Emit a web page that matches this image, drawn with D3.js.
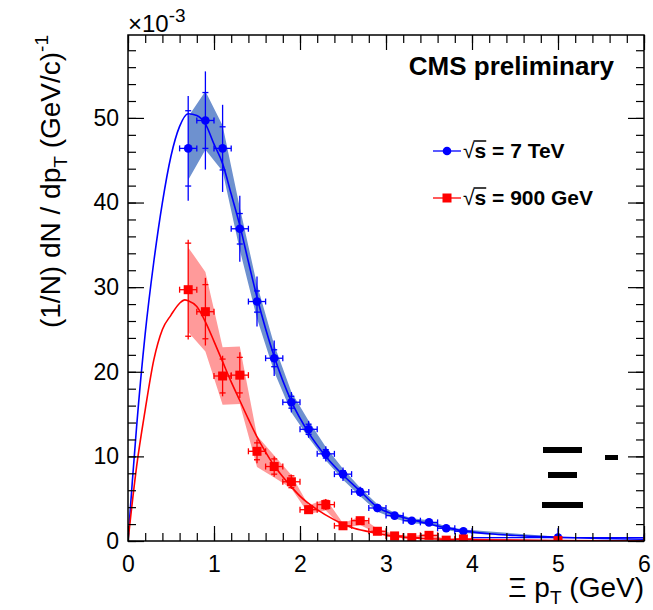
<!DOCTYPE html>
<html>
<head>
<meta charset="utf-8">
<script src="https://cdn.jsdelivr.net/npm/d3@7"></script>
<style>
  html, body { margin: 0; padding: 0; background: #fff; }
  svg { display: block; }
</style>
</head>
<body>
<div id="chart"></div>
<script>
// Xi pT spectra, CMS preliminary (values in units of 1e-3)
const ptBins = [0.7, 0.9, 1.1, 1.3, 1.5, 1.7, 1.9, 2.1, 2.3, 2.5, 2.7, 2.9, 3.1, 3.3, 3.5, 3.7, 3.9, 5.0];
const ptHalfWidth = [0.1, 0.1, 0.1, 0.1, 0.1, 0.1, 0.1, 0.1, 0.1, 0.1, 0.1, 0.1, 0.1, 0.1, 0.1, 0.1, 0.1, 1.0];

// sqrt(s) = 7 TeV
const yield7 = [46.4, 49.7, 46.4, 36.9, 28.3, 21.6, 16.4, 13.2, 10.3, 7.9, 5.8, 3.9, 3.0, 2.4, 2.2, 1.5, 1.15, 0.4];
const stat7 = [4.45, 3.3, 2.55, 1.8, 1.25, 1.0, 0.7, 0.6, 0.5, 0.4, 0.35, 0.3, 0.25, 0.2, 0.2, 0.15, 0.15, 0.3];
const total7 = [6.2, 5.8, 5.15, 3.9, 2.95, 2.1, 1.2, 1.0, 0.9, 0.8, 0.6, 0.5, 0.4, 0.35, 0.3, 0.3, 0.25, 1.1];
const syst7 = [3.75, 3.45, 2.7, 2.5, 2.0, 1.6, 1.2, 1.0, 0.8, 0.65, 0.5, 0.45, 0.35, 0.3, 0.25, 0.2, 0.2, 0.1];

// sqrt(s) = 900 GeV
const yield900 = [29.7, 27.1, 19.5, 19.6, 10.6, 8.8, 7.0, 3.7, 4.3, 1.8, 2.4, 1.15, 0.6, 0.4, 0.67, 0.1, 0.24, 0.05];
const stat900 = [5.5, 3.2, 2.0, 2.1, 1.0, 0.9, 0.7, 0.4, 0.5, 0.3, 0.35, 0.2, 0.15, 0.15, 0.15, 0.1, 0.1, 0.05];
const total900 = [5.9, 4.0, 2.4, 2.7, 1.4, 1.2, 0.85, 0.5, 0.65, 0.35, 0.45, 0.3, 0.2, 0.2, 0.2, 0.15, 0.15, 0.1];
const syst900 = [5.0, 4.7, 3.4, 3.4, 1.85, 1.3, 0.8, 0.5, 0.7, 0.3, 0.5, 0.3, 0.2, 0.15, 0.2, 0.1, 0.1, 0.05];

// fit curves
const fitPt7 = [0, 0.05, 0.1, 0.2, 0.3, 0.4, 0.5, 0.6, 0.7, 0.8, 0.9, 1.0, 1.1, 1.2, 1.3, 1.4, 1.5, 1.7, 1.9, 2.1, 2.3, 2.5, 2.7, 2.9, 3.1, 3.3, 3.5, 3.7, 3.9, 4.2, 4.5, 5.0, 5.5, 6.0];
const fit7 = [0, 7, 13.5, 24.5, 33, 40, 45.5, 49, 50.5, 50.3, 49.3, 46.9, 44.6, 41, 37.3, 33, 28.8, 21.8, 16.5, 12.8, 10.0, 7.8, 5.9, 4.0, 3.1, 2.5, 2.0, 1.55, 1.2, 0.85, 0.65, 0.45, 0.3, 0.2];
const fitPt900 = [0, 0.1, 0.2, 0.3, 0.4, 0.5, 0.6, 0.66, 0.7, 0.8, 0.9, 1.0, 1.1, 1.2, 1.3, 1.4, 1.5, 1.6, 1.7, 1.8, 1.9, 2.0, 2.2, 2.4, 2.6, 2.8, 3.0, 3.4, 4.0, 5.0, 6.0];
const fit900 = [0, 8.8, 15.5, 21.4, 25, 26.7, 28.1, 28.5, 28.4, 27.7, 25.9, 23.6, 21.2, 18.8, 16.6, 14.4, 12.3, 10.5, 8.9, 7.6, 6.4, 5.3, 3.7, 2.5, 1.6, 1.1, 0.7, 0.3, 0.15, 0.05, 0];

const xMajorTicks = [0, 1, 2, 3, 4, 5, 6];
const yMajorTicks = [0, 10, 20, 30, 40, 50];

const width = 653;
const height = 610;
const margin = { top: 35, right: 9, bottom: 69, left: 128 };
const fontFamily = "'Liberation Sans', Arial, Helvetica, sans-serif";

const blue = '#0000ff';
const blueBand = '#6e91cf';
const red = '#ff0000';
const redBand = '#ff9a9a';

const x = d3.scaleLinear().domain([0, 6]).range([margin.left, width - margin.right]);
const y = d3.scaleLinear().domain([0, 59.8]).range([height - margin.bottom, margin.top]);

const svg = d3.select('#chart')
  .append('svg')
  .attr('width', width)
  .attr('height', height)
  .style('background', '#fff')
  .style('font-family', fontFamily);

svg.append('defs').append('clipPath').attr('id', 'frame-clip')
  .append('rect')
  .attr('x', margin.left).attr('y', margin.top)
  .attr('width', x(6) - x(0)).attr('height', y(0) - y(59.8));

const plot = svg.append('g').attr('clip-path', 'url(#frame-clip)');

/* Systematic bands */
function drawBand(values, syst, fill) {
  const pts = ptBins.map((pt, i) => ({ pt, lo: values[i] - syst[i], hi: values[i] + syst[i] }));
  const area = d3.area()
    .x((d) => x(d.pt))
    .y0((d) => y(Math.max(d.lo, 0)))
    .y1((d) => y(d.hi));
  plot.append('path').datum(pts).attr('d', area).attr('fill', fill);
}
drawBand(yield7, syst7, blueBand);
drawBand(yield900, syst900, redBand);

/* Fit curves */
function drawFit(pts, vals, color) {
  const line = d3.line().curve(d3.curveMonotoneX)
    .x((d) => x(d[0]))
    .y((d) => y(d[1]));
  plot.append('path')
    .datum(pts.map((p, i) => [p, vals[i]]))
    .attr('d', line)
    .attr('fill', 'none')
    .attr('stroke', color)
    .attr('stroke-width', 1.6);
}
drawFit(fitPt7, fit7, blue);
drawFit(fitPt900, fit900, red);

/* Data points with error bars */
function drawPoints(values, stat, total, color, marker) {
  const data = ptBins.map((pt, i) => ({ pt, hw: ptHalfWidth[i], v: values[i], s: stat[i], t: total[i] }));
  const g = plot.append('g').attr('stroke', color).attr('stroke-width', 1.3);
  const cap = 3;

  data.forEach((d) => {
    const cx = x(d.pt);
    const cy = y(d.v);
    // total error
    g.append('line').attr('x1', cx).attr('x2', cx).attr('y1', y(d.v - d.t)).attr('y2', y(d.v + d.t));
    // stat error caps
    [d.v - d.s, d.v + d.s].forEach((e) => {
      g.append('line').attr('x1', cx - cap).attr('x2', cx + cap).attr('y1', y(e)).attr('y2', y(e));
    });
    // bin width
    g.append('line').attr('x1', x(d.pt - d.hw)).attr('x2', x(d.pt + d.hw)).attr('y1', cy).attr('y2', cy);
    [d.pt - d.hw, d.pt + d.hw].forEach((e) => {
      g.append('line').attr('x1', x(e)).attr('x2', x(e)).attr('y1', cy - cap).attr('y2', cy + cap);
    });
  });

  if (marker === 'circle') {
    plot.selectAll(null).data(data).join('circle')
      .attr('cx', (d) => x(d.pt))
      .attr('cy', (d) => y(d.v))
      .attr('r', 4.3)
      .attr('fill', color);
  } else {
    const s = 9;
    plot.selectAll(null).data(data).join('rect')
      .attr('x', (d) => x(d.pt) - s / 2)
      .attr('y', (d) => y(d.v) - s / 2)
      .attr('width', s)
      .attr('height', s)
      .attr('fill', color);
  }
}
drawPoints(yield7, stat7, total7, blue, 'circle');
drawPoints(yield900, stat900, total900, red, 'square');

/* Axes: ROOT style, ticks inward on all four sides */
const xMinor = d3.range(0, 31).map((i) => i * 0.2);
const yMinor = d3.range(0, 30).map((i) => i * 2);

function styleAxis(g) {
  g.select('.domain').remove();
  g.selectAll('line').attr('stroke', '#000').attr('stroke-width', 1.2);
  g.selectAll('text').attr('fill', '#000').attr('font-size', 23).attr('font-family', fontFamily);
}

const bottomY = y(0);
const topY = y(59.8);
const leftX = x(0);
const rightX = x(6);

svg.append('g').attr('transform', `translate(0,${bottomY})`)
  .call(d3.axisBottom(x).tickValues(xMinor).tickSize(-8).tickFormat(''))
  .call(styleAxis);
svg.append('g').attr('transform', `translate(0,${bottomY})`)
  .call(d3.axisBottom(x).tickValues(xMajorTicks).tickSize(-15).tickPadding(10).tickFormat(d3.format('d')))
  .call(styleAxis)
  .selectAll('text').attr('dy', '0.9em');
svg.append('g').attr('transform', `translate(0,${topY})`)
  .call(d3.axisTop(x).tickValues(xMinor).tickSize(-8).tickFormat(''))
  .call(styleAxis);
svg.append('g').attr('transform', `translate(0,${topY})`)
  .call(d3.axisTop(x).tickValues(xMajorTicks).tickSize(-15).tickFormat(''))
  .call(styleAxis);

svg.append('g').attr('transform', `translate(${leftX},0)`)
  .call(d3.axisLeft(y).tickValues(yMinor).tickSize(-8).tickFormat(''))
  .call(styleAxis);
svg.append('g').attr('transform', `translate(${leftX},0)`)
  .call(d3.axisLeft(y).tickValues(yMajorTicks).tickSize(-16).tickPadding(9).tickFormat(d3.format('d')))
  .call(styleAxis);
svg.append('g').attr('transform', `translate(${rightX},0)`)
  .call(d3.axisRight(y).tickValues(yMinor).tickSize(-8).tickFormat(''))
  .call(styleAxis);
svg.append('g').attr('transform', `translate(${rightX},0)`)
  .call(d3.axisRight(y).tickValues(yMajorTicks).tickSize(-16).tickFormat(''))
  .call(styleAxis);

/* Frame */
svg.append('rect')
  .attr('x', leftX).attr('y', topY)
  .attr('width', rightX - leftX).attr('height', bottomY - topY)
  .attr('fill', 'none').attr('stroke', '#000').attr('stroke-width', 1.5);

/* Exponent label */
const expo = svg.append('text').attr('x', leftX).attr('y', 32).attr('font-size', 24).attr('fill', '#000');
expo.append('tspan').text('×10');
expo.append('tspan').attr('dy', -10).attr('font-size', 19).text('-3');

/* Axis titles */
const xTitle = svg.append('text')
  .attr('x', rightX).attr('y', 597)
  .attr('text-anchor', 'end').attr('font-size', 28).attr('fill', '#000');
xTitle.append('tspan').text('Ξ p');
xTitle.append('tspan').attr('dy', 7).attr('font-size', 19).text('T');
xTitle.append('tspan').attr('dy', -7).text(' (GeV)');

const yTitle = svg.append('text')
  .attr('transform', `translate(60,${topY}) rotate(-90)`)
  .attr('text-anchor', 'end').attr('font-size', 28).attr('fill', '#000');
yTitle.append('tspan').text('(1/N) dN / dp');
yTitle.append('tspan').attr('dy', 7).attr('font-size', 19).text('T');
yTitle.append('tspan').attr('dy', -7).text('  (GeV/c)');
yTitle.append('tspan').attr('dy', -12).attr('font-size', 19).text('-1');

/* CMS label */
svg.append('text')
  .attr('x', 614).attr('y', 75)
  .attr('text-anchor', 'end')
  .attr('font-size', 26).attr('font-weight', 700).attr('fill', '#000')
  .text('CMS preliminary');

/* Legend */
const legendItems = [
  { label: ' = 7 TeV', color: blue, marker: 'circle', cy: 151 },
  { label: ' = 900 GeV', color: red, marker: 'square', cy: 198 },
];
const legend = svg.append('g');
legendItems.forEach((d) => {
  const g = legend.append('g');
  g.append('line').attr('x1', 433).attr('x2', 461).attr('y1', d.cy).attr('y2', d.cy)
    .attr('stroke', d.color).attr('stroke-width', 1.3);
  if (d.marker === 'circle') {
    g.append('circle').attr('cx', 447).attr('cy', d.cy).attr('r', 4.3).attr('fill', d.color);
  } else {
    g.append('rect').attr('x', 447 - 4.5).attr('y', d.cy - 4.5).attr('width', 9).attr('height', 9).attr('fill', d.color);
  }
  const t = g.append('text').attr('x', 463).attr('y', d.cy + 7)
    .attr('font-size', 21).attr('font-weight', 700).attr('fill', '#000');
  t.append('tspan').attr('font-weight', 400).text('√');
  t.append('tspan').text('s');
  t.append('tspan').text(d.label);
  // radical bar over "s"
  const root = t.node().getExtentOfChar(0);
  const s = t.node().getExtentOfChar(1);
  g.append('line')
    .attr('x1', root.x + root.width - 1).attr('x2', s.x + s.width)
    .attr('y1', root.y + 2).attr('y2', root.y + 2)
    .attr('stroke', '#000').attr('stroke-width', 1.5);
});

/* Stray glyph fragments bottom right */
const glyph = svg.append('g').attr('fill', '#000');
[[543, 447, 39, 6], [548, 472, 29, 6], [542, 502, 41, 6], [605, 455, 13, 5]].forEach(([gx, gy, gw, gh]) => {
  glyph.append('rect').attr('x', gx).attr('y', gy).attr('width', gw).attr('height', gh);
});
</script>
</body>
</html>
